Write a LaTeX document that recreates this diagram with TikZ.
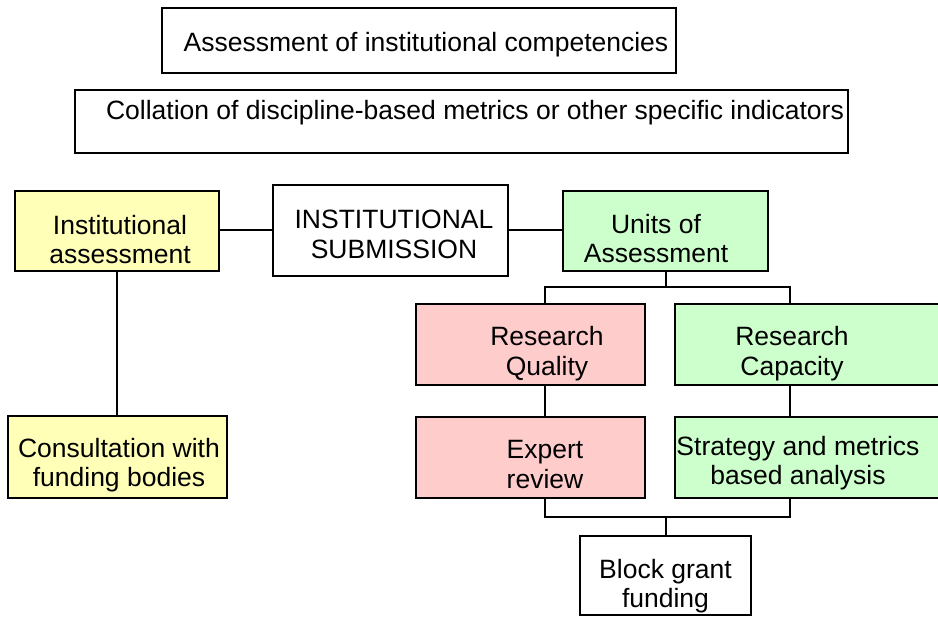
\documentclass[tikz,border=0pt]{standalone}
\usepackage{fontspec}
\setmainfont{Liberation Sans}
\definecolor{yel}{HTML}{FFFFB8}
\definecolor{pnk}{HTML}{FFCCCC}
\definecolor{grn}{HTML}{CCFFCC}
\begin{document}
\begin{tikzpicture}[x=1pt,y=-1pt,
  box/.style={draw=black,line width=1.5pt,rectangle,inner sep=0pt,outer sep=0pt},
  txt/.style={align=center,inner sep=0pt,font=\fontsize{26.5}{29.5}\selectfont},
  conn/.style={draw=black,line width=2pt}]
\useasboundingbox (0,0) rectangle (938,617);
\clip (0,0) rectangle (938,617);
\fill[white] (0,0) rectangle (938,617);
% boxes
\node[box,fill=white,minimum width=514pt,minimum height=65pt] (A) at (419,40.5) {};
\node[box,fill=white,minimum width=773pt,minimum height=63pt] (B) at (461.5,121.5) {};
\node[box,fill=yel,minimum width=204pt,minimum height=80pt] (C) at (117,231) {};
\node[box,fill=white,minimum width=235pt,minimum height=91pt] (D) at (390.5,230.5) {};
\node[box,fill=grn,minimum width=205pt,minimum height=80pt] (E) at (665.5,231) {};
\node[box,fill=pnk,minimum width=229pt,minimum height=81pt] (F) at (530.5,344.5) {};
\node[box,fill=grn,minimum width=285pt,minimum height=81pt] (G) at (817.5,344.5) {};
\node[box,fill=pnk,minimum width=229pt,minimum height=81pt] (H) at (530.5,457.5) {};
\node[box,fill=grn,minimum width=285pt,minimum height=81pt] (I) at (817.5,457.5) {};
\node[box,fill=white,minimum width=171pt,minimum height=79pt] (J) at (665.5,575.5) {};
\node[box,fill=yel,minimum width=219pt,minimum height=82pt] (K) at (117.5,457) {};
% texts
\node[txt,anchor=base] (tA) at (426,52) {Assessment of institutional competencies};
\node[txt,anchor=base] (tB) at (475,120) {Collation of discipline-based metrics or other specific indicators};
\node[txt] (tC) at (120,239.5) {Institutional\\assessment};
\node[txt] (tD) at (394,234.5) {INSTITUTIONAL\\SUBMISSION};
\node[txt] (tE) at (656,238.5) {Units of\\Assessment};
\node[txt] (tF) at (547,353.5) {Research\\Quality};
\node[txt] (tG) at (792,353.5) {Research\\Capacity};
\node[txt] (tH) at (545,464.5) {Expert\\review};
\node[txt] (tI) at (798,463) {Strategy and metrics\\based analysis};
\node[txt] (tJ) at (665.5,586) {Block grant\\funding};
\node[txt] (tK) at (119,465) {Consultation with\\funding bodies};
% connectors
\coordinate (cy) at (0,230);
\coordinate (cx) at (117,0);
\coordinate (b1m) at (666,287);
\coordinate (b1l) at (545,287);
\coordinate (b1r) at (790,287);
\coordinate (b2m) at (666,517);
\coordinate (b2l) at (545,517);
\coordinate (b2r) at (790,517);
\draw[conn] (C.east |- cy) -- (D.west |- cy);
\draw[conn] (D.east |- cy) -- (E.west |- cy);
\draw[conn] (cx |- C.south) -- (cx |- K.north);
\draw[conn] (b1m |- E.south) -- (b1m);
\draw[conn] (b1l |- F.north) -- (b1l) -- (b1r) -- (b1r |- G.north);
\draw[conn] (b1l |- F.south) -- (b1l |- H.north);
\draw[conn] (b1r |- G.south) -- (b1r |- I.north);
\draw[conn] (b2l |- H.south) -- (b2l) -- (b2r) -- (b2r |- I.south);
\draw[conn] (b2m |- J.north) -- (b2m);
\end{tikzpicture}
\end{document}
